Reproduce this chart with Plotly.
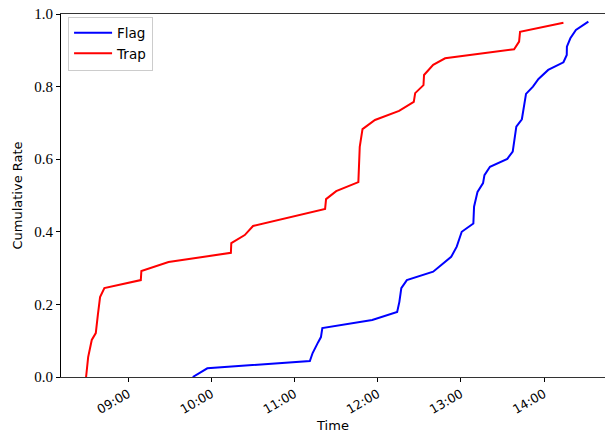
import plotly.graph_objects as go

DAY = "2023-01-01 "

trap_times = ["08:29:30", "08:31:00", "08:33:36", "08:36:30", "08:38:00", "08:39:36", "08:42:42",
              "09:09:00", "09:09:24", "09:29:00", "10:14:00", "10:14:18", "10:24:00", "10:30:00",
              "11:22:00", "11:22:42", "11:30:00", "11:46:00", "11:47:00", "11:49:00", "11:58:00",
              "12:15:24", "12:26:00", "12:27:00", "12:33:00", "12:33:24", "12:40:00", "12:48:36",
              "13:38:24", "13:42:00", "13:42:42", "14:14:00"]
trap_rate = [0.0, 0.055, 0.102, 0.121, 0.171, 0.220, 0.245,
             0.267, 0.292, 0.317, 0.342, 0.369, 0.391, 0.416,
             0.463, 0.490, 0.512, 0.537, 0.634, 0.683, 0.708,
             0.733, 0.758, 0.782, 0.804, 0.832, 0.860, 0.878,
             0.903, 0.924, 0.951, 0.976]

flag_times = ["09:46:30", "09:57:00", "11:11:00", "11:13:00", "11:17:00", "11:19:00", "11:20:00",
              "11:56:00", "12:14:00", "12:15:36", "12:17:00", "12:21:00", "12:40:00", "12:53:00",
              "12:57:00", "13:00:36", "13:09:00", "13:09:30", "13:12:00", "13:16:00", "13:17:00",
              "13:21:00", "13:33:30", "13:37:24", "13:40:00", "13:44:00", "13:47:00", "13:52:00",
              "13:56:00", "14:03:00", "14:14:00", "14:16:24", "14:16:30", "14:19:00", "14:23:00",
              "14:32:00"]
flag_rate = [0.0, 0.024, 0.044, 0.066, 0.096, 0.110, 0.135,
             0.157, 0.179, 0.207, 0.245, 0.267, 0.290, 0.331,
             0.359, 0.400, 0.423, 0.469, 0.510, 0.534, 0.556,
             0.579, 0.601, 0.621, 0.690, 0.710, 0.780, 0.800,
             0.821, 0.846, 0.867, 0.887, 0.910, 0.933, 0.956,
             0.979]

x_range = ["08:11:24", "14:44:00"]
y_ticks = [0.0, 0.2, 0.4, 0.6, 0.8, 1.0]

fig = go.Figure()
fig.add_trace(go.Scatter(x=[DAY + t for t in flag_times], y=flag_rate, mode="lines",
                         name="Flag", line=dict(color="#0000ff", width=2)))
fig.add_trace(go.Scatter(x=[DAY + t for t in trap_times], y=trap_rate, mode="lines",
                         name="Trap", line=dict(color="#ff0000", width=2)))

fig.update_layout(
    width=605, height=433,
    margin=dict(l=61, r=0, t=14, b=56),
    paper_bgcolor="white", plot_bgcolor="white",
    showlegend=True,
    legend=dict(x=0.013, y=0.993, xanchor="left", yanchor="top",
                bgcolor="rgba(255,255,255,0.8)", bordercolor="#cccccc", borderwidth=1,
                font=dict(family="DejaVu Sans", size=13.5, color="black"),
                tracegroupgap=0, itemwidth=38),
    xaxis=dict(
        type="date", automargin=False,
        range=[DAY + x_range[0], DAY + x_range[1]],
        tickformat="%H:%M", dtick=3600000, tick0=DAY + "09:00:00",
        tickangle=-30,
        showgrid=False, zeroline=False,
        showline=True, linecolor="#333333", linewidth=1, mirror=True,
        ticks="outside", ticklen=4, tickcolor="black", tickwidth=1,
        tickfont=dict(family="DejaVu Sans", size=12.5, color="black"),
        title=dict(text="Time", font=dict(family="DejaVu Sans", size=13, color="black"), standoff=11),
    ),
    yaxis=dict(
        automargin=False,
        range=[0, 1], tickvals=y_ticks, ticktext=[f"{v:.1f}" for v in y_ticks],
        showgrid=False, zeroline=False,
        showline=True, linecolor="black", linewidth=1,
        ticks="outside", ticklen=4, tickcolor="black", tickwidth=1,
        tickfont=dict(family="Liberation Serif", size=15, color="black"),
        title=dict(text="Cumulative Rate", font=dict(family="DejaVu Sans", size=13, color="black"), standoff=8),
    ),
)

fig.write_html("out.html", config={"displayModeBar": False},
               post_script="document.body.style.margin='0';")
